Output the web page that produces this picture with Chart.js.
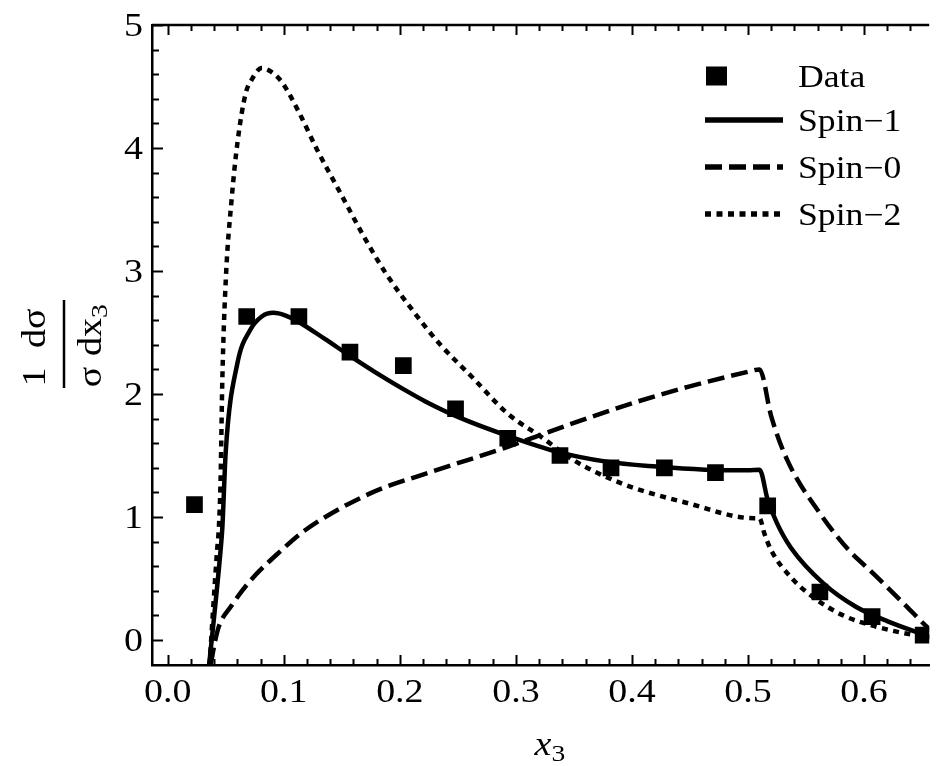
<!DOCTYPE html>
<html>
<head>
  <title>x3 distribution</title>
  <script src="https://cdn.jsdelivr.net/npm/chart.js@4"></script>
  <style>
    body { margin: 0; background: #fff; }
    canvas { display: block; }
  </style>
</head>
<body>
  <canvas id="chart" width="941" height="766"></canvas>
  <script>
    // measured distribution (squares)
    const dataX = [0.023, 0.068, 0.113, 0.157, 0.203, 0.248, 0.293, 0.338, 0.382, 0.428, 0.472, 0.517, 0.562, 0.607, 0.651];
    const dataY = [1.10, 2.63, 2.63, 2.34, 2.23, 1.88, 1.64, 1.50, 1.40, 1.40, 1.36, 1.09, 0.39, 0.19, 0.04];

    // spin-1 prediction (solid)
    const spin1X = [0.0357, 0.0455, 0.047, 0.050, 0.060, 0.071, 0.081, 0.091, 0.101, 0.112, 0.135, 0.157, 0.180, 0.203, 0.222, 0.251, 0.293, 0.336, 0.378, 0.421, 0.463, 0.500, 0.510, 0.517, 0.525, 0.537, 0.565, 0.593, 0.621, 0.650, 0.660];
    const spin1Y = [-0.2, 0.73, 0.91, 1.54, 2.25, 2.52, 2.63, 2.66, 2.64, 2.59, 2.45, 2.31, 2.17, 2.04, 1.94, 1.81, 1.66, 1.53, 1.45, 1.41, 1.385, 1.38, 1.385, 1.14, 0.95, 0.75, 0.46, 0.27, 0.15, 0.05, 0.02];

    // spin-0 prediction (dashed)
    const spin0X = [0.037, 0.041, 0.044, 0.055, 0.070, 0.098, 0.118, 0.174, 0.228, 0.293, 0.319, 0.392, 0.449, 0.500, 0.510, 0.520, 0.534, 0.562, 0.587, 0.607, 0.636, 0.655, 0.660];
    const spin0Y = [-0.2, 0.0, 0.11, 0.28, 0.47, 0.73, 0.89, 1.19, 1.37, 1.57, 1.66, 1.90, 2.06, 2.18, 2.20, 1.82, 1.46, 1.03, 0.73, 0.55, 0.28, 0.10, 0.06];

    // spin-2 prediction (dotted)
    const spin2X = [0.036, 0.0425, 0.044, 0.0455, 0.047, 0.050, 0.055, 0.060, 0.067, 0.072, 0.081, 0.089, 0.098, 0.112, 0.129, 0.149, 0.169, 0.188, 0.211, 0.234, 0.262, 0.293, 0.322, 0.350, 0.392, 0.449, 0.505, 0.510, 0.514, 0.520, 0.537, 0.556, 0.582, 0.610, 0.650, 0.660];
    const spin2Y = [-0.2, 0.73, 0.91, 1.30, 2.11, 2.93, 3.58, 4.04, 4.44, 4.55, 4.65, 4.62, 4.54, 4.31, 3.98, 3.63, 3.28, 2.98, 2.68, 2.41, 2.14, 1.84, 1.65, 1.46, 1.27, 1.11, 0.99, 0.99, 0.87, 0.73, 0.51, 0.35, 0.20, 0.11, 0.03, 0.02];

    const seriesLabels = ["Data", "Spin\u22121", "Spin\u22120", "Spin\u22122"];
    const xTicks = [0.0, 0.1, 0.2, 0.3, 0.4, 0.5, 0.6];
    const yTicks = [0, 1, 2, 3, 4, 5];

    const SERIF = '"Liberation Serif", "Times New Roman", serif';
    const TEXT_SX = 1.15;   // the serif face is set a little wide

    function toPoints(xs, ys) {
      return xs.map((x, i) => ({ x: x, y: ys[i] }));
    }

    // fillText with a horizontal stretch, returns drawn width
    function stretchText(ctx, str, x, y, font, align) {
      ctx.save();
      ctx.font = font;
      const w = ctx.measureText(str).width * TEXT_SX;
      const left = align === "center" ? x - w / 2 : align === "right" ? x - w : x;
      ctx.translate(left, y);
      ctx.scale(TEXT_SX, 1);
      ctx.textAlign = "left";
      ctx.textBaseline = "alphabetic";
      ctx.fillStyle = "#000";
      ctx.fillText(str, 0, 0);
      ctx.restore();
      return w;
    }

    // inward ticks on bottom, top and left, plus the tick labels
    const axisTicks = {
      id: "axisTicks",
      afterDraw(chart) {
        const ctx = chart.ctx;
        const xs = chart.scales.x, ys = chart.scales.y;
        const a = chart.chartArea;
        ctx.save();
        ctx.strokeStyle = "#000";
        ctx.lineWidth = 2.5;
        // top frame line
        ctx.beginPath();
        ctx.moveTo(a.left, a.top);
        ctx.lineTo(a.right, a.top);
        ctx.stroke();

        ctx.lineWidth = 2;
        for (let k = 0; k <= 32; k++) {
          const v = k * 0.02;
          if (v < xs.min || v > xs.max) continue;
          const px = Math.round(xs.getPixelForValue(v)) + 0.5;
          const len = k % 5 === 0 ? 10 : 6;
          ctx.beginPath();
          ctx.moveTo(px, a.bottom);
          ctx.lineTo(px, a.bottom - len);
          ctx.moveTo(px, a.top);
          ctx.lineTo(px, a.top + len);
          ctx.stroke();
        }
        for (let k = 0; k <= 25; k++) {
          const v = k * 0.2;
          const py = Math.round(ys.getPixelForValue(v)) + 0.5;
          const len = k % 5 === 0 ? 11 : 7;
          ctx.beginPath();
          ctx.moveTo(a.left, py);
          ctx.lineTo(a.left + len, py);
          ctx.stroke();
        }
        ctx.restore();

        const tickFont = "33px " + SERIF;
        xTicks.forEach(v => {
          stretchText(ctx, v.toFixed(1), xs.getPixelForValue(v), a.bottom + 37, tickFont, "center");
        });
        yTicks.forEach(v => {
          stretchText(ctx, String(v), a.left - 9, ys.getPixelForValue(v) + 11, tickFont, "right");
        });
      }
    };

    // axis titles: x3 below, (1/sigma) dsigma/dx3 rotated on the left
    const axisTitles = {
      id: "axisTitles",
      afterDraw(chart) {
        const ctx = chart.ctx;
        const a = chart.chartArea;
        const cx = (a.left + a.right) / 2;

        const wx = stretchText(ctx, "x", cx - 6, 755, "italic 33px " + SERIF, "left");
        stretchText(ctx, "3", cx - 6 + wx, 761, "24px " + SERIF, "left");

        ctx.save();
        ctx.translate(64, 344);
        ctx.rotate(-Math.PI / 2);
        ctx.fillStyle = "#000";
        ctx.fillRect(-44, -1.25, 88, 2.5);
        const f = "33px " + SERIF;
        stretchText(ctx, "1", -33, -19, f, "center");
        stretchText(ctx, "d\u03C3", -4, -19, f, "left");
        stretchText(ctx, "\u03C3", -33, 37, f, "center");
        const wd = stretchText(ctx, "dx", -12, 37, f, "left");
        stretchText(ctx, "3", -12 + wd, 43, "24px " + SERIF, "left");
        ctx.restore();
      }
    };

    // legend in the upper right corner, styled from the datasets
    const legendBox = {
      id: "legendBox",
      afterDraw(chart) {
        const ctx = chart.ctx;
        const rows = [76, 120, 167, 214];
        chart.data.datasets.forEach((ds, i) => {
          const y = rows[i];
          ctx.save();
          if (ds.showLine === false) {
            ctx.fillStyle = ds.backgroundColor;
            ctx.fillRect(706, y - 9.5, 21, 19);
          } else {
            ctx.strokeStyle = ds.borderColor;
            ctx.lineWidth = 5.5;
            ctx.setLineDash(ds.borderDash || []);
            ctx.beginPath();
            ctx.moveTo(705, y);
            ctx.lineTo(783, y);
            ctx.stroke();
          }
          ctx.restore();
          stretchText(ctx, ds.label, 798, y + 11, "31px " + SERIF, "left");
        });
      }
    };

    const lineBase = {
      showLine: true,
      borderColor: "#000",
      borderWidth: 4.5,
      pointRadius: 0,
      cubicInterpolationMode: "monotone",
      fill: false
    };

    const ctx = document.getElementById("chart").getContext("2d");
    new Chart(ctx, {
      type: "scatter",
      data: {
        datasets: [
          {
            label: seriesLabels[0],
            data: toPoints(dataX, dataY),
            showLine: false,
            pointStyle: "rect",
            pointRadius: 11.8,
            backgroundColor: "#000",
            borderWidth: 0
          },
          Object.assign({}, lineBase, {
            label: seriesLabels[1],
            data: toPoints(spin1X, spin1Y)
          }),
          Object.assign({}, lineBase, {
            label: seriesLabels[2],
            data: toPoints(spin0X, spin0Y),
            borderDash: [17, 7]
          }),
          Object.assign({}, lineBase, {
            label: seriesLabels[3],
            data: toPoints(spin2X, spin2Y),
            borderDash: [6, 5.5]
          })
        ]
      },
      options: {
        responsive: false,
        animation: false,
        devicePixelRatio: 1,
        layout: { padding: { top: 25, right: 0, left: 0, bottom: 0 } },
        plugins: {
          legend: { display: false },
          tooltip: { enabled: false }
        },
        scales: {
          x: {
            type: "linear",
            min: -0.0136,
            max: 0.6562,
            afterFit(scale) { scale.height = 101; },
            afterBuildTicks(scale) { scale.ticks = xTicks.map(v => ({ value: v })); },
            grid: { display: false, drawTicks: false },
            border: { display: true, color: "#000", width: 2.5 },
            ticks: { display: false }
          },
          y: {
            type: "linear",
            min: -0.2033,
            max: 5,
            afterFit(scale) { scale.width = 152; },
            afterBuildTicks(scale) { scale.ticks = yTicks.map(v => ({ value: v })); },
            grid: { display: false, drawTicks: false },
            border: { display: true, color: "#000", width: 2.5 },
            ticks: { display: false }
          }
        }
      },
      plugins: [axisTicks, axisTitles, legendBox]
    });
  </script>
</body>
</html>
